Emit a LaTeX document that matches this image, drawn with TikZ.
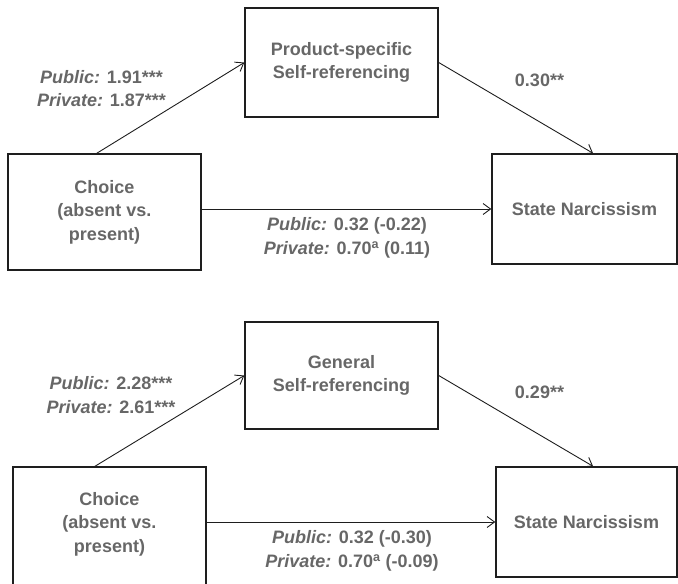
\documentclass[tikz,border=0pt]{standalone}
\usepackage{fontspec}
\setmainfont{Liberation Sans}
\usetikzlibrary{arrows.meta,calc}
\definecolor{txt}{HTML}{676767}
\definecolor{ln}{HTML}{1E1E1E}
\newcommand{\itl}[1]{{\itshape #1}}
\begin{document}
\begin{tikzpicture}[x=1pt,y=-1pt,
  box/.style={draw=ln,line width=1.4pt,text=txt,font=\bfseries\fontsize{18}{23.5}\selectfont,align=center,inner sep=0pt},
  lbl/.style={text=txt,font=\bfseries\fontsize{18}{23.5}\selectfont,align=center,inner sep=0pt},
  arr/.style={draw=ln,line width=0.9pt,-{Straight Barb[length=7.5pt,width=11pt]}}]
\useasboundingbox (0,0) rectangle (678,584);
% ---- top model ----
\node[box,minimum width=193,minimum height=109] (p1) at (341.5,62.5) {Product-specific\\Self-referencing};
\node[box,minimum width=193,minimum height=116] (c1) at (104.5,212) {Choice\\(absent vs.\\present)};
\node[box,minimum width=185,minimum height=110] (s1) at (584.5,209) {State Narcissism};
\draw[arr] ($(c1.north west)!0.46!(c1.north east)$) -- (p1.west);
\draw[arr] (p1.east) -- ($(s1.north west)!0.546!(s1.north east)$);
\draw[arr] (c1.east |- s1.west) -- (s1.west);
\node[lbl] (a1) at (101.5,88.5) {\itl{Public:} 1.91***\\\itl{Private:} 1.87***};
\node[lbl] (b1) at (539.5,80) {0.30**};
\node[lbl] (d1) at (347,238) {\itl{Public:} 0.32 (-0.22)\\\itl{Private:} 0.70\textsuperscript{a} (0.11)};
% ---- bottom model ----
\node[box,minimum width=193,minimum height=107] (p2) at (341.5,375.5) {General\\Self-referencing};
\node[box,minimum width=193,minimum height=134] (c2) at (109.5,534) {};
\node[lbl] (c2t) at (109.5,524) {Choice\\(absent vs.\\present)};
\node[box,minimum width=181,minimum height=110] (s2) at (586.5,522) {State Narcissism};
\draw[arr] ($(c2.north west)!0.425!(c2.north east)$) -- (p2.west);
\draw[arr] (p2.east) -- ($(s2.north west)!0.536!(s2.north east)$);
\draw[arr] (c2.east |- s2.west) -- (s2.west);
\node[lbl] (a2) at (111,395) {\itl{Public:} 2.28***\\\itl{Private:} 2.61***};
\node[lbl] (b2) at (539.5,392) {0.29**};
\node[lbl] (d2) at (352,551) {\itl{Public:} 0.32 (-0.30)\\\itl{Private:} 0.70\textsuperscript{a} (-0.09)};
\end{tikzpicture}
\end{document}
